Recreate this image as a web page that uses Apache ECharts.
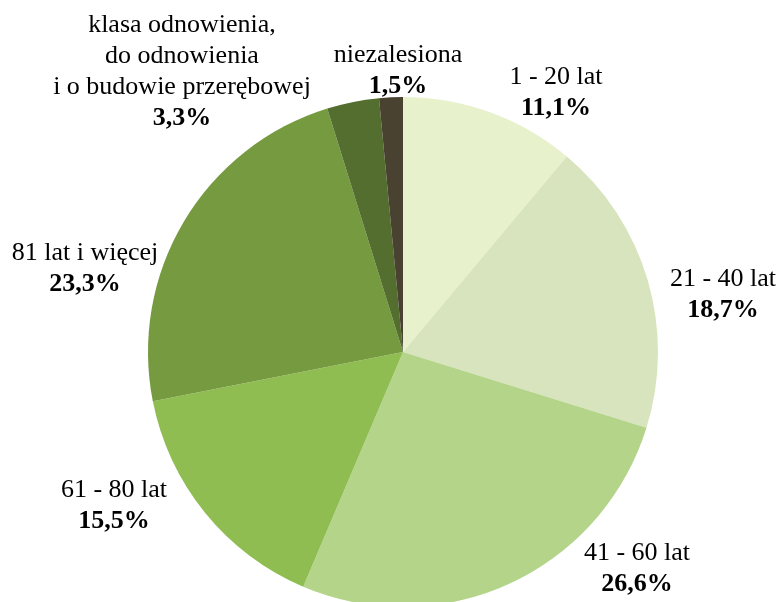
<!DOCTYPE html>
<html>
<head>
<meta charset="utf-8">
<script src="https://cdn.jsdelivr.net/npm/echarts@6/dist/echarts.min.js"></script>
<style>html,body{margin:0;padding:0;background:#fff}#c{width:783px;height:602px}</style>
</head>
<body>
<div id="c"></div>
<script>
var categories = ['1 - 20 lat', '21 - 40 lat', '41 - 60 lat', '61 - 80 lat', '81 lat i więcej', 'klasa odnowienia,\ndo odnowienia\ni o budowie przerębowej', 'niezalesiona'];
var values = [11.1, 18.7, 26.6, 15.5, 23.3, 3.3, 1.5];
var colors = ['#e7f1cc', '#d7e4bd', '#b4d48a', '#8fbd51', '#769a40', '#536e2f', '#4a4231'];
// label block centres (text placement only)
var labelPos = [[556, 93], [723, 295], [637, 569], [114, 506], [85, 269], [182, 72], [398, 71]];

var chart = echarts.init(document.getElementById('c'));
var data = categories.map(function (c, i) {
  return { name: c, value: values[i], itemStyle: { color: colors[i] } };
});
chart.setOption({
  animation: false,
  series: [{
    type: 'pie',
    center: [403, 352],
    radius: 255,
    startAngle: 90,
    clockwise: true,
    avoidLabelOverlap: false,
    data: data,
    label: {
      show: true,
      position: 'outside',
      fontFamily: 'Liberation Serif',
      fontSize: 26,
      lineHeight: 31,
      color: '#000',
      align: 'center',
      formatter: function (p) {
        return p.name + '\n{b|' + p.value.toFixed(1).replace('.', ',') + '%}';
      },
      rich: {
        b: { fontFamily: 'Liberation Serif', fontSize: 26, lineHeight: 31, fontWeight: 'bold', color: '#000' }
      }
    },
    labelLine: { show: false },
    labelLayout: function (params) {
      var p = labelPos[params.dataIndex];
      return { x: p[0], y: p[1], align: 'center', verticalAlign: 'middle' };
    },
    emphasis: { disabled: true }
  }]
});
</script>
</body>
</html>
